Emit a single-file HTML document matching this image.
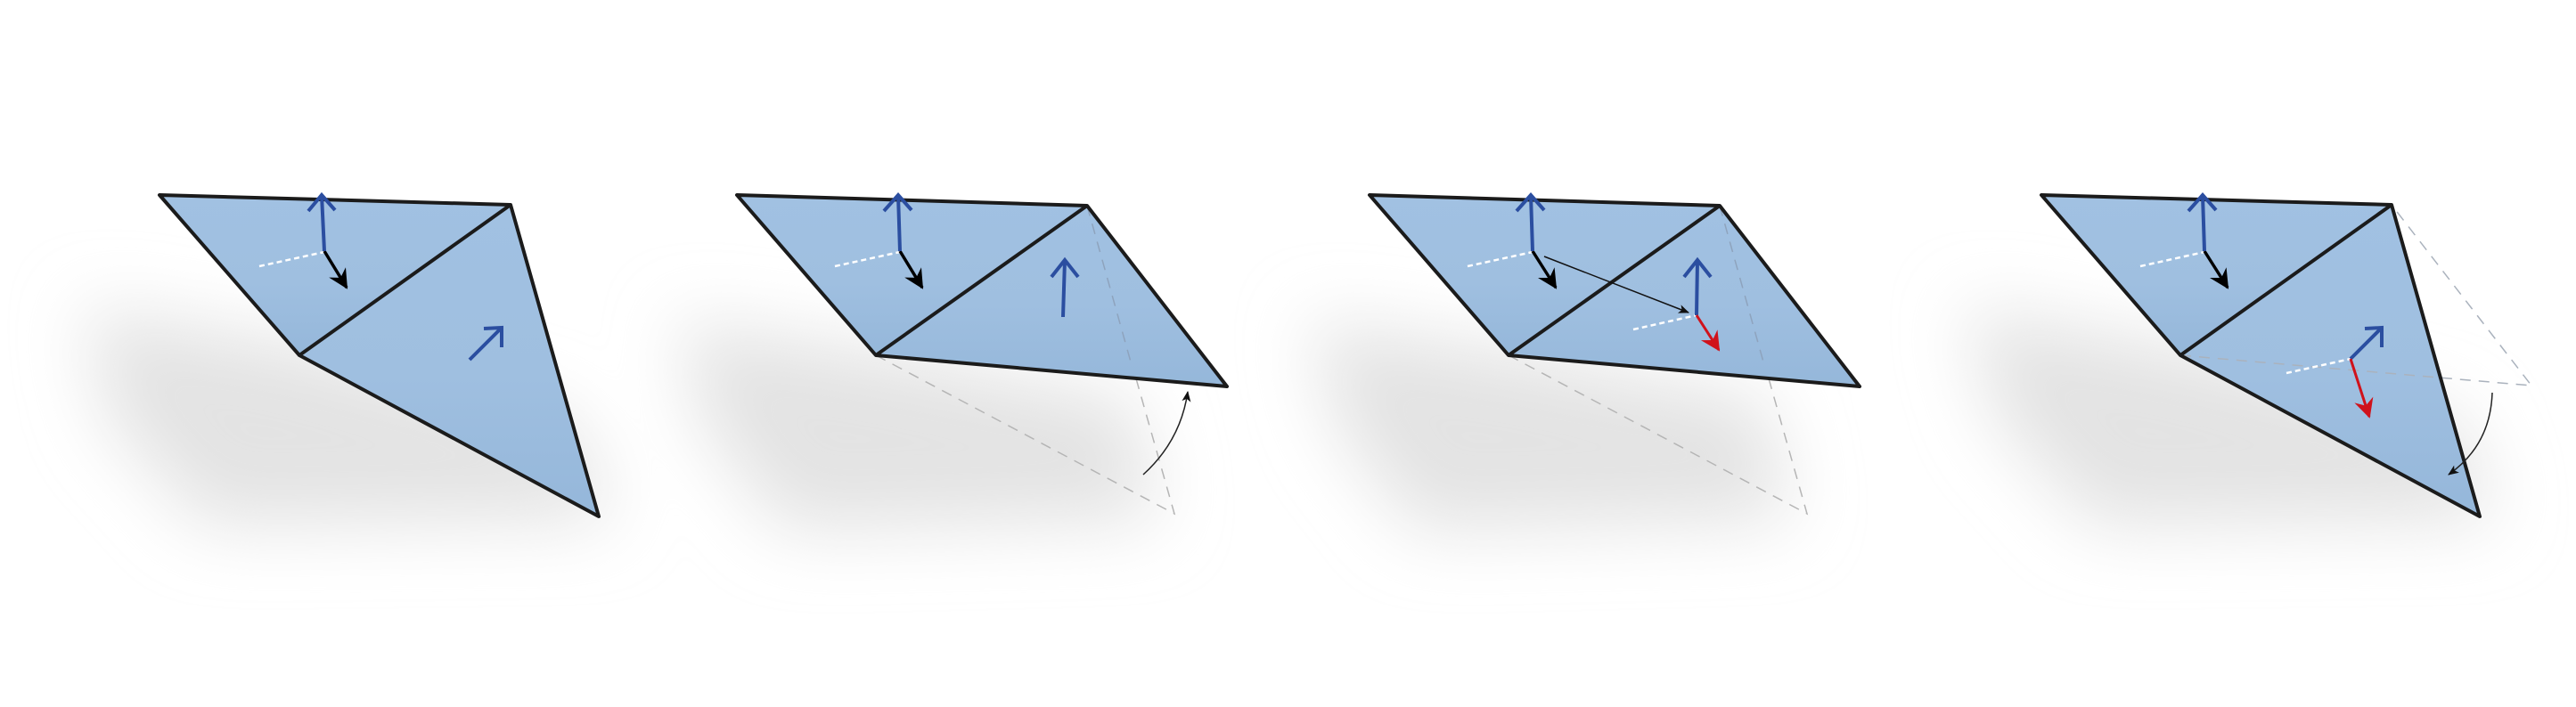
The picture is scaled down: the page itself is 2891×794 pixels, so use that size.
<!DOCTYPE html>
<html><head><meta charset="utf-8"><style>
html,body{margin:0;padding:0;background:#fff;}
svg{display:block;}
</style></head><body>
<svg width="2891" height="794" viewBox="0 0 2891 794" xmlns="http://www.w3.org/2000/svg">
<defs>
<filter id="blur" x="-50%" y="-50%" width="200%" height="200%"><feGaussianBlur stdDeviation="40"/></filter>
<linearGradient id="fill" x1="0" y1="0" x2="0" y2="1">
<stop offset="0" stop-color="#a1c1e2"/><stop offset="0.55" stop-color="#9fbfe0"/><stop offset="1" stop-color="#95b7da"/>
</linearGradient>
<marker id="barbK" markerUnits="userSpaceOnUse" refX="0" refY="0" markerWidth="40" markerHeight="40" orient="auto" overflow="visible">
<path d="M2,0 L-20,-11 L-13,0 L-20,11 Z" fill="#000"/>
</marker>
<marker id="barbR" markerUnits="userSpaceOnUse" refX="0" refY="0" markerWidth="40" markerHeight="40" orient="auto" overflow="visible">
<path d="M2,0 L-20,-11 L-13,0 L-20,11 Z" fill="#d0121b"/>
</marker>
<marker id="thin" markerUnits="userSpaceOnUse" refX="0" refY="0" markerWidth="20" markerHeight="20" orient="auto" overflow="visible">
<path d="M1,0 L-11,-5 L-8,0 L-11,5 Z" fill="#111"/>
</marker>
</defs>

<g filter="url(#blur)" fill="#e3e3e3">
<path d="M95,345 L330,385 L640,470 L690,585 L230,590 L120,470 Z"/>
<path d="M760,360 L990,395 L1270,450 L1300,585 L880,595 L790,480 Z"/>
<path d="M1470,360 L1700,395 L1980,450 L2010,585 L1590,595 L1500,480 Z"/>
<path d="M2205,345 L2450,390 L2760,470 L2800,585 L2350,590 L2240,470 Z"/>
</g>

<g>
<polygon points="179,219 573,230 336,399" fill="url(#fill)"/>
<polygon points="336,399 573,230 672,580" fill="url(#fill)"/>
<path d="M179,219 L573,230 L672,580 L336,399 Z M336,399 L573,230" fill="none" stroke="#1b1b1b" stroke-width="4" stroke-linejoin="round"/>
<line x1="291" y1="299" x2="364" y2="283" stroke="#fff" stroke-width="2.5" stroke-dasharray="6,4"/>
<line x1="364" y1="282" x2="389" y2="323" stroke="#000" stroke-width="3.5" marker-end="url(#barbK)"/>
<path d="M364,282 L361,219 M346,237 L361,219 L376,236" fill="none" stroke="#2b4ea0" stroke-width="4"/>
<path d="M527,404 L563,368 M543,369 L563,368 L563,390" fill="none" stroke="#2b4ea0" stroke-width="4"/>
</g>

<g>
<path d="M983,399 L1318,577 L1220,231" fill="none" stroke="#b5b5b5" stroke-width="1.5" stroke-dasharray="12,9"/>
<polygon points="827,219 1220,231 983,399" fill="url(#fill)"/>
<polygon points="983,399 1220,231 1377,434" fill="url(#fill)"/>
<line x1="1220" y1="231" x2="1270" y2="410" stroke="#8ea3bd" stroke-width="1.5" stroke-dasharray="12,9"/>
<path d="M827,219 L1220,231 L1377,434 L983,399 Z M983,399 L1220,231" fill="none" stroke="#1b1b1b" stroke-width="4" stroke-linejoin="round"/>
<line x1="937" y1="299" x2="1010" y2="283" stroke="#fff" stroke-width="2.5" stroke-dasharray="6,4"/>
<line x1="1010" y1="282" x2="1035" y2="323" stroke="#000" stroke-width="3.5" marker-end="url(#barbK)"/>
<path d="M1010,282 L1008,219 M992,237 L1008,219 L1023,236" fill="none" stroke="#2b4ea0" stroke-width="4"/>
<path d="M1193,356 L1195,292 M1180,311 L1195,292 L1210,311" fill="none" stroke="#2b4ea0" stroke-width="4"/>
<path d="M1283,533 Q1325,495 1333,440" fill="none" stroke="#222" stroke-width="1.5" marker-end="url(#thin)"/>
</g>

<g>
<path d="M1693,399 L2028,577 L1930,231" fill="none" stroke="#b5b5b5" stroke-width="1.5" stroke-dasharray="12,9"/>
<polygon points="1537,219 1930,231 1693,399" fill="url(#fill)"/>
<polygon points="1693,399 1930,231 2087,434" fill="url(#fill)"/>
<line x1="1930" y1="231" x2="1980" y2="410" stroke="#8ea3bd" stroke-width="1.5" stroke-dasharray="12,9"/>
<path d="M1537,219 L1930,231 L2087,434 L1693,399 Z M1693,399 L1930,231" fill="none" stroke="#1b1b1b" stroke-width="4" stroke-linejoin="round"/>
<line x1="1647" y1="299" x2="1720" y2="283" stroke="#fff" stroke-width="2.5" stroke-dasharray="6,4"/>
<line x1="1833" y1="370" x2="1904" y2="354" stroke="#fff" stroke-width="2.5" stroke-dasharray="6,4"/>
<line x1="1720" y1="282" x2="1746" y2="323" stroke="#000" stroke-width="3.5" marker-end="url(#barbK)"/>
<line x1="1733" y1="288" x2="1895" y2="351" stroke="#111" stroke-width="1.5" marker-end="url(#thin)"/>
<path d="M1720,282 L1718,219 M1702,237 L1718,219 L1733,236" fill="none" stroke="#2b4ea0" stroke-width="4"/>
<path d="M1904,354 L1905,292 M1890,311 L1905,292 L1920,311" fill="none" stroke="#2b4ea0" stroke-width="4"/>
<line x1="1904" y1="354" x2="1929" y2="393" stroke="#d0121b" stroke-width="3" marker-end="url(#barbR)"/>
</g>

<g>
<polygon points="2291,219 2684,230 2447,399" fill="url(#fill)"/>
<polygon points="2447,399 2684,230 2783,580" fill="url(#fill)"/>
<path d="M2447,399 L2841,433 L2684,230" fill="none" stroke="#aab2bd" stroke-width="1.5" stroke-dasharray="12,9"/>
<path d="M2291,219 L2684,230 L2783,580 L2447,399 Z M2447,399 L2684,230" fill="none" stroke="#1b1b1b" stroke-width="4" stroke-linejoin="round"/>
<line x1="2402" y1="299" x2="2474" y2="283" stroke="#fff" stroke-width="2.5" stroke-dasharray="6,4"/>
<line x1="2566" y1="419" x2="2638" y2="403" stroke="#fff" stroke-width="2.5" stroke-dasharray="6,4"/>
<line x1="2474" y1="282" x2="2500" y2="323" stroke="#000" stroke-width="3.5" marker-end="url(#barbK)"/>
<path d="M2474,282 L2472,219 M2456,237 L2472,219 L2487,236" fill="none" stroke="#2b4ea0" stroke-width="4"/>
<path d="M2638,403 L2673,368 M2654,369 L2673,368 L2673,390" fill="none" stroke="#2b4ea0" stroke-width="4"/>
<line x1="2638" y1="403" x2="2659" y2="468" stroke="#d0121b" stroke-width="3" marker-end="url(#barbR)"/>
<path d="M2797,441 Q2795,500 2748,533" fill="none" stroke="#222" stroke-width="1.5" marker-end="url(#thin)"/>
</g>
</svg>
</body></html>
